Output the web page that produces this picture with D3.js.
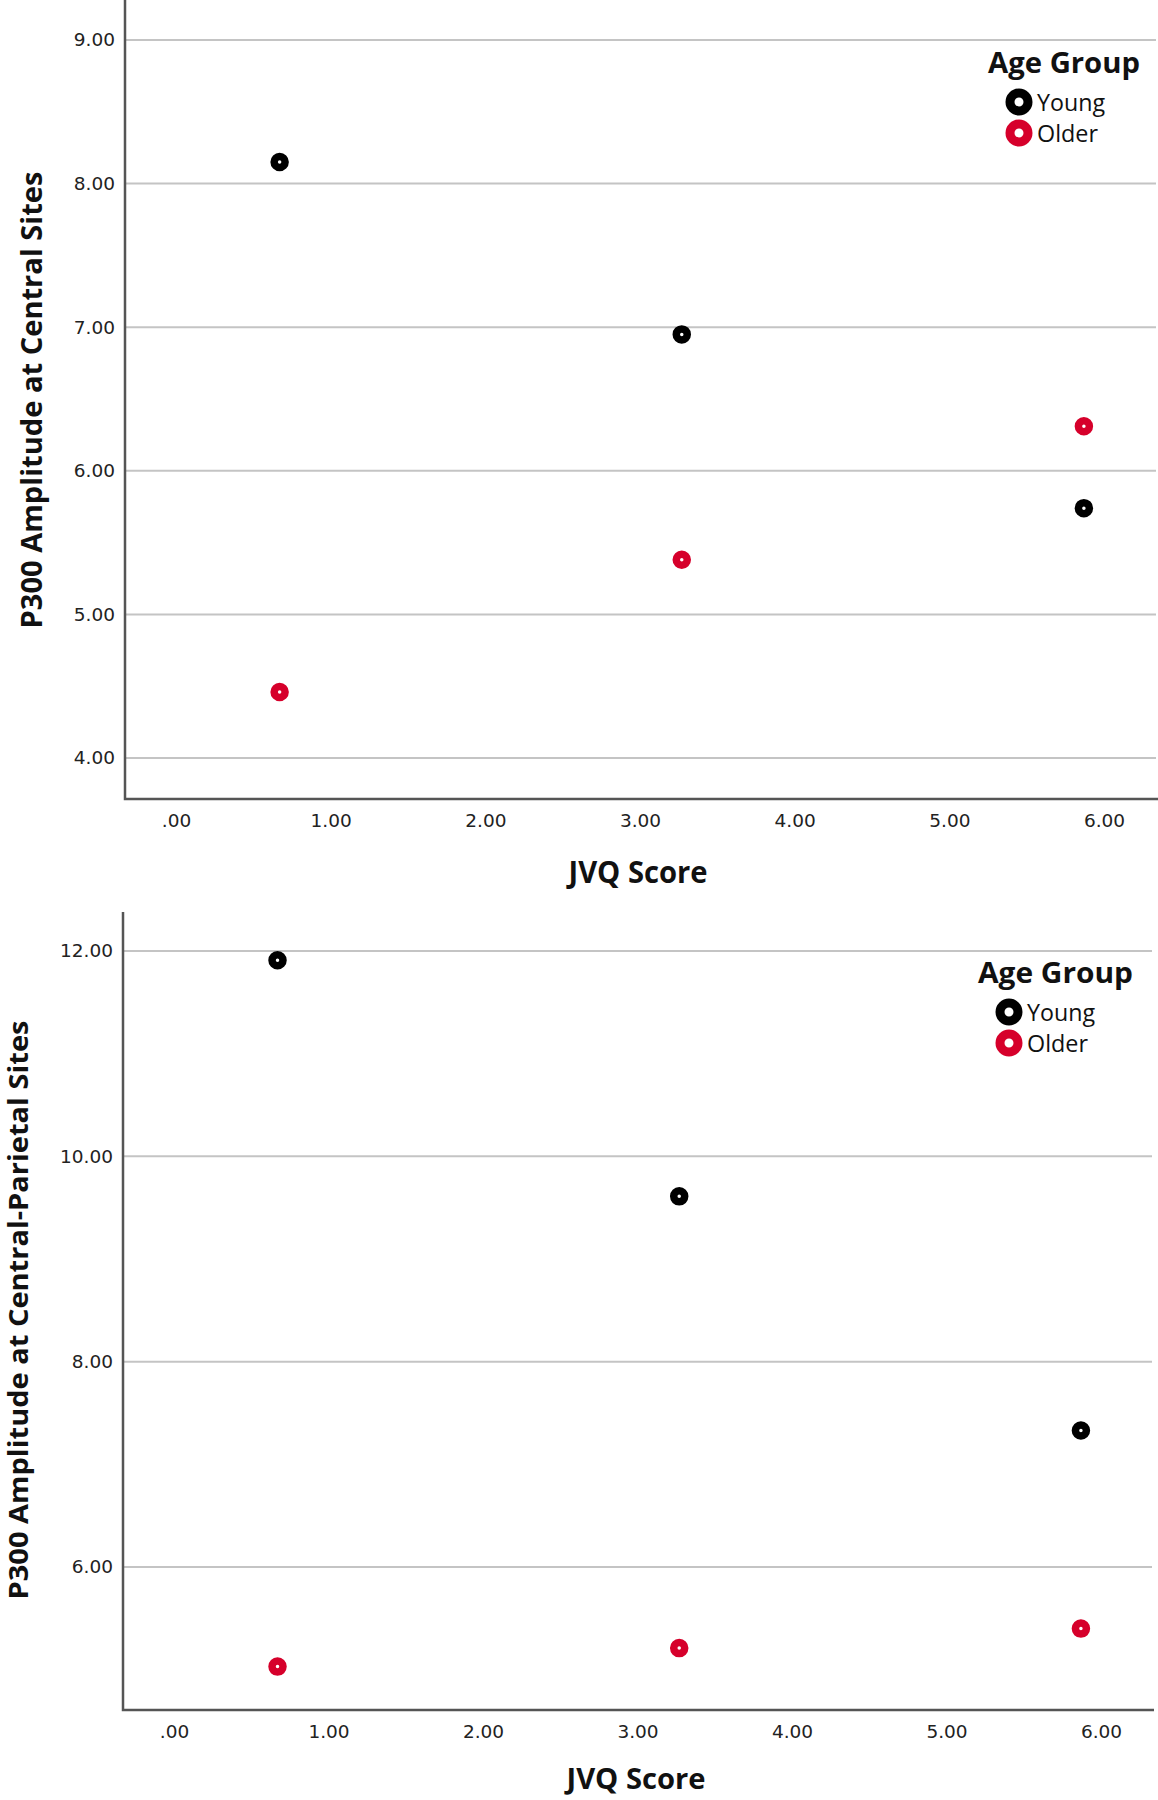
<!DOCTYPE html>
<html>
<head>
<meta charset="utf-8">
<script src="https://cdn.jsdelivr.net/npm/d3@7"></script>
<style>
  html, body { margin: 0; padding: 0; background: #fff; }
  svg { display: block; }
</style>
</head>
<body>
<svg id="chart" width="1158" height="1800"></svg>
<script>
// ---------- DATA ----------
const jvqScores = [0.67, 3.27, 5.87];
const xTicks = [0, 1, 2, 3, 4, 5, 6];
const groups = ["Young", "Older"];

const centralYoung = [8.15, 6.95, 5.74];
const centralOlder = [4.46, 5.38, 6.31];
const centralYTicks = [4, 5, 6, 7, 8, 9];

const cpYoung = [11.91, 9.61, 7.33];
const cpOlder = [5.03, 5.21, 5.40];
const cpYTicks = [6, 8, 10, 12];

const xTitle = "JVQ Score";
const legendTitle = "Age Group";
const centralTitle = "P300 Amplitude at Central Sites";
const cpTitle = "P300 Amplitude at Central-Parietal Sites";

// ---------- STYLE ----------
const colors = { Young: "#000000", Older: "#d6002b" };
const titleFont = "'Open Sans', 'DejaVu Sans', sans-serif";
const tickFont = "'DejaVu Sans', sans-serif";
const fmt = d => d === 0 ? ".00" : d3.format(".2f")(d);

const svg = d3.select("#chart");

function drawPanel(p) {
  const g = svg.append("g");
  const x = d3.scaleLinear().domain([0, 6]).range(p.xRange);
  const y = d3.scaleLinear().domain(p.yDomain).range(p.yRange);

  // gridlines
  g.append("g").selectAll("line").data(p.yTicks).join("line")
    .attr("x1", p.left + 1).attr("x2", p.right - 2)
    .attr("y1", d => y(d)).attr("y2", d => y(d))
    .attr("stroke", "#c4c4c4").attr("stroke-width", 2);

  // y axis labels
  const ya = g.append("g").attr("transform", `translate(${p.left},0)`)
    .call(d3.axisLeft(y).tickValues(p.yTicks).tickSize(0).tickPadding(10).tickFormat(fmt));
  ya.select(".domain").remove();
  ya.selectAll("text").attr("font-family", tickFont).attr("font-size", 18.5).attr("fill", "#222");

  // x axis labels
  const xa = g.append("g").attr("transform", `translate(0,${p.bottom})`)
    .call(d3.axisBottom(x).tickValues(xTicks).tickSize(0).tickPadding(15).tickFormat(fmt));
  xa.select(".domain").remove();
  xa.selectAll("text").attr("font-family", tickFont).attr("font-size", 18.5).attr("fill", "#222");

  // axis lines
  g.append("path")
    .attr("d", `M${p.left},${p.top}V${p.bottom}H${p.right}`)
    .attr("fill", "none").attr("stroke", "#555").attr("stroke-width", 2.5);

  // points
  const series = [
    { name: "Young", vals: p.young },
    { name: "Older", vals: p.older }
  ];
  series.forEach(s => {
    g.append("g").selectAll("circle").data(jvqScores.map((v, i) => [v, s.vals[i]])).join("circle")
      .attr("cx", d => x(d[0])).attr("cy", d => y(d[1]))
      .attr("r", 5.5).attr("fill", "#fff")
      .attr("stroke", colors[s.name]).attr("stroke-width", 7.5);
  });

  // y title
  g.append("text")
    .attr("transform", `translate(${p.yTitleX},${p.yTitleY}) rotate(-90)`)
    .attr("text-anchor", "middle")
    .attr("font-family", titleFont).attr("font-weight", 700).attr("font-size", p.yTitleSize)
    .attr("textLength", p.yTitleLen).attr("lengthAdjust", "spacingAndGlyphs")
    .attr("fill", "#111")
    .text(p.yTitle);

  // x title
  g.append("text")
    .attr("x", p.xTitleX).attr("y", p.xTitleY)
    .attr("text-anchor", "middle")
    .attr("font-family", titleFont).attr("font-weight", 700).attr("font-size", p.xTitleSize)
    .attr("textLength", 139).attr("lengthAdjust", "spacingAndGlyphs")
    .attr("fill", "#111")
    .text(xTitle);

  // legend
  const lg = g.append("g").attr("transform", `translate(${p.legendDx},${p.legendDy})`);
  lg.append("text").attr("x", 988).attr("y", 73)
    .attr("font-family", titleFont).attr("font-weight", 700).attr("font-size", 28)
    .attr("textLength", p.legendLen).attr("lengthAdjust", "spacingAndGlyphs")
    .attr("fill", "#111").text(legendTitle);
  const ly = d3.scalePoint().domain(groups).range([102, 133]);
  groups.forEach(name => {
    lg.append("circle").attr("cx", 1019).attr("cy", ly(name))
      .attr("r", 9).attr("fill", "#fff")
      .attr("stroke", colors[name]).attr("stroke-width", 9);
    lg.append("text").attr("x", 1037).attr("y", ly(name) + 9)
      .attr("font-family", titleFont).attr("font-size", 23)
      .attr("textLength", name === "Young" ? 68 : 61).attr("lengthAdjust", "spacingAndGlyphs")
      .attr("fill", "#111").text(name);
  });
}

drawPanel({
  left: 125, right: 1158, top: 0, bottom: 799,
  xRange: [176, 1104],
  yDomain: [4, 9], yRange: [758, 40],
  yTicks: centralYTicks,
  young: centralYoung, older: centralOlder,
  yTitle: centralTitle, yTitleX: 42, yTitleY: 400, yTitleLen: 457, yTitleSize: 28,
  xTitleX: 638, xTitleY: 883, xTitleSize: 30,
  legendDx: 0, legendDy: 0, legendLen: 152
});

drawPanel({
  left: 123, right: 1154, top: 912, bottom: 1710,
  xRange: [174, 1101],
  yDomain: [6, 12], yRange: [1567, 951],
  yTicks: cpYTicks,
  young: cpYoung, older: cpOlder,
  yTitle: cpTitle, yTitleX: 28, yTitleY: 1310, yTitleLen: 579, yTitleSize: 26,
  xTitleX: 636, xTitleY: 1789, xTitleSize: 28,
  legendDx: -10, legendDy: 910, legendLen: 155
});
</script>
</body>
</html>
